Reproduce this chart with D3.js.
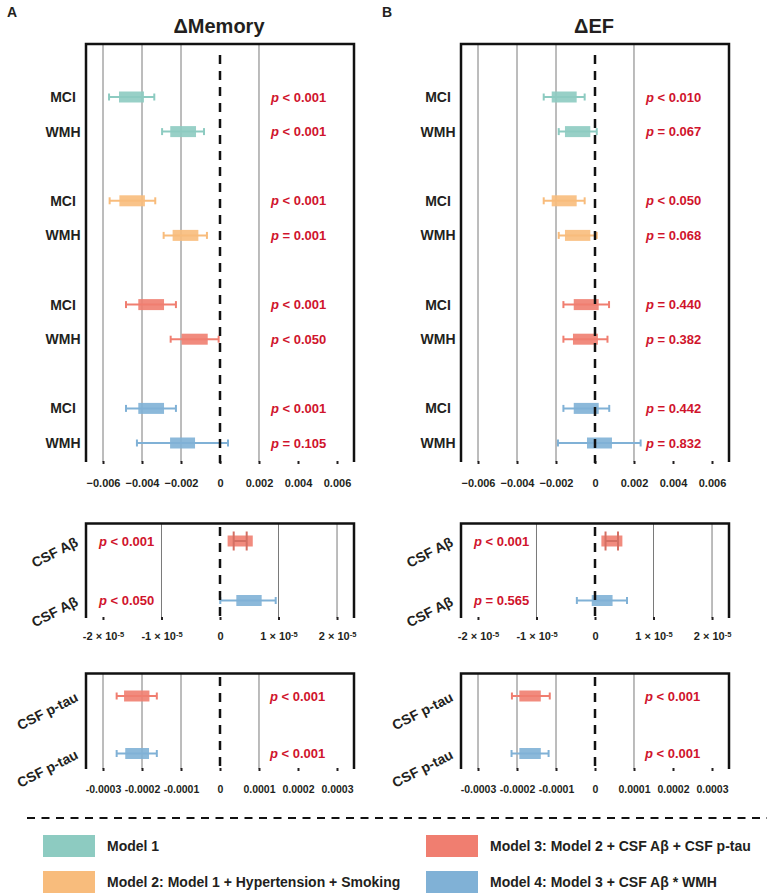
<!DOCTYPE html>
<html><head><meta charset="utf-8">
<script src="https://cdn.jsdelivr.net/npm/d3@7"></script>
<style>
body{margin:0;background:#fff}
svg{display:block;font-family:"Liberation Sans",Arial,Helvetica,sans-serif}
</style>
</head><body>
<svg id="chart" width="767" height="896"></svg>
<script>
// ---------- data ----------
const modelNames = ["Model 1", "Model 2: Model 1 + Hypertension + Smoking", "Model 3: Model 2 + CSF Aβ + CSF p-tau", "Model 4: Model 3 + CSF Aβ * WMH"];
const modelColors = ["#8dcbc1", "#f8bc7c", "#f07e70", "#80b1d6"];

// top panels: 4 models x (MCI, WMH)
const topModels = [0, 0, 1, 1, 2, 2, 3, 3];
const topTerms = ["MCI", "WMH", "MCI", "WMH", "MCI", "WMH", "MCI", "WMH"];
const topRowPos = [0, 1, 3, 4, 6, 7, 9, 10];

const memBoxLo = [-0.00518, -0.00255, -0.00516, -0.00243, -0.00419, -0.00197, -0.00419, -0.00256];
const memBoxHi = [-0.00390, -0.00123, -0.00385, -0.00111, -0.00287, -0.00063, -0.00287, -0.00128];
const memCiLo  = [-0.00569, -0.00297, -0.00566, -0.00289, -0.00482, -0.00253, -0.00482, -0.00426];
const memCiHi  = [-0.00337, -0.00082, -0.00332, -0.00067, -0.00226, -0.00007, -0.00226, 0.00041];
const memP     = ["< 0.001", "< 0.001", "< 0.001", "= 0.001", "< 0.001", "< 0.050", "< 0.001", "= 0.105"];

const efBoxLo = [-0.00222, -0.00154, -0.00222, -0.00154, -0.00109, -0.00113, -0.00109, -0.00041];
const efBoxHi = [-0.00094, -0.00024, -0.00094, -0.00024, 0.00019, 0.00015, 0.00019, 0.00087];
const efCiLo  = [-0.00263, -0.00186, -0.00263, -0.00186, -0.00162, -0.00162, -0.00162, -0.00190];
const efCiHi  = [-0.00053, 0.00009, -0.00053, 0.00009, 0.00072, 0.00064, 0.00073, 0.00234];
const efP     = ["< 0.010", "= 0.067", "< 0.050", "= 0.068", "= 0.440", "= 0.382", "= 0.442", "= 0.832"];

// CSF Aβ panels (Models 3, 4)
const csfModels = [2, 3];
const abTerm = "CSF Aβ";
const memAbBoxLo = [0.130e-5, 0.279e-5];
const memAbBoxHi = [0.560e-5, 0.712e-5];
const memAbCiLo  = [0.234e-5, 0.005e-5];
const memAbCiHi  = [0.456e-5, 0.952e-5];
const memAbP     = ["< 0.001", "< 0.050"];
const efAbBoxLo = [0.109e-5, -0.056e-5];
const efAbBoxHi = [0.468e-5, 0.300e-5];
const efAbCiLo  = [0.180e-5, -0.310e-5];
const efAbCiHi  = [0.393e-5, 0.547e-5];
const efAbP     = ["< 0.001", "= 0.565"];

// CSF p-tau panels (Models 3, 4)
const tauTerm = "CSF p-tau";
const memTauBoxLo = [-0.000246, -0.000243];
const memTauBoxHi = [-0.000181, -0.000182];
const memTauCiLo  = [-0.000265, -0.000265];
const memTauCiHi  = [-0.000162, -0.000162];
const memTauP     = ["< 0.001", "< 0.001"];
const efTauBoxLo = [-0.000194, -0.000194];
const efTauBoxHi = [-0.000139, -0.000139];
const efTauCiLo  = [-0.000213, -0.000214];
const efTauCiHi  = [-0.000116, -0.000119];
const efTauP     = ["< 0.001", "< 0.001"];

// ticks
const topTicks = [-0.006, -0.004, -0.002, 0, 0.002, 0.004, 0.006];
const topTickLabels = ["−0.006", "−0.004", "−0.002", "0", "0.002", "0.004", "0.006"];
const topGrid = [-0.006, -0.004, -0.002, 0.002];
const abTicks = [-2e-5, -1e-5, 0, 1e-5, 2e-5];
const abTickBase = ["-2 × 10", "-1 × 10", "0", "1 × 10", "2 × 10"];
const abTickExp = ["-5", "-5", "", "-5", "-5"];
const abGrid = [-1e-5, 1e-5, 2e-5];
const tauTicks = [-0.0003, -0.0002, -0.0001, 0, 0.0001, 0.0002, 0.0003];
const tauTickLabels = ["-0.0003", "-0.0002", "-0.0001", "0", "0.0001", "0.0002", "0.0003"];
const tauGrid = [-0.0003, -0.0002, -0.0001, 0.0001];

const titles = ["ΔMemory", "ΔEF"];
const panelLetters = ["A", "B"];

// ---------- drawing ----------
const svg = d3.select("#chart");
svg.append("rect").attr("width", 767).attr("height", 896).attr("fill", "#fff");
const INK = "#231f20", PRED = "#d0142c", GRID = "#7a7a7a";
const PW = 268;

function panel(o) {
  const g = svg.append("g");
  const x = d3.scaleLinear().domain([-o.extent, o.extent]).range([o.left, o.left + PW]);
  // gridlines
  g.selectAll("line.grid").data(o.grid).join("line")
    .attr("x1", d => x(d)).attr("x2", d => x(d))
    .attr("y1", o.top).attr("y2", o.bottom)
    .attr("stroke", GRID).attr("stroke-width", 1);
  // axis
  const ax = g.append("g").attr("transform", `translate(0,${o.bottom - 1})`)
    .call(d3.axisBottom(x).tickValues(o.ticks).tickSize(3).tickPadding(o.pad)
      .tickFormat((d, i) => o.tickLabels[i]));
  ax.attr("font-size", o.tickSize).attr("font-family", '"Liberation Sans",Arial,sans-serif');
  ax.select(".domain").remove();
  ax.selectAll(".tick line").attr("stroke", INK).attr("stroke-width", 2);
  ax.selectAll(".tick text").attr("fill", INK).style("font-size", o.tickSize + "px")
    .attr("font-weight", "bold");
  if (o.tickExp) {
    ax.selectAll(".tick text").each(function(d, i) {
      const t = d3.select(this);
      if (!o.tickExp[i]) return;
      t.text(o.tickLabels[i]);
      t.append("tspan").style("font-size", "7.5px").attr("dy", "-0.5em").text(o.tickExp[i]);
    });
  }
  // border
  g.append("path")
    .attr("d", `M${o.left},${o.bottom}V${o.top}H${o.left + PW}V${o.bottom}`)
    .attr("fill", "none").attr("stroke", "#111").attr("stroke-width", 2.5);
  // rows
  const rows = o.models.map((m, i) => ({
    m, term: o.terms[i], y: o.rowY[i], bLo: o.boxLo[i], bHi: o.boxHi[i],
    cLo: o.ciLo[i], cHi: o.ciHi[i], p: o.pvals[i]
  }));
  const r = g.selectAll("g.row").data(rows).join("g");
  r.append("rect")
    .attr("x", d => x(d.bLo)).attr("width", d => x(d.bHi) - x(d.bLo))
    .attr("y", d => d.y - 5.5).attr("height", 11)
    .attr("fill", d => modelColors[d.m]).attr("fill-opacity", 0.9);
  const inside = d => d.cLo > d.bLo && d.cHi < d.bHi;
  const wcol = d => inside(d) ? d3.color(modelColors[d.m]).darker(0.35) : modelColors[d.m];
  r.append("line")
    .attr("x1", d => x(d.cLo)).attr("x2", d => x(d.cHi))
    .attr("y1", d => d.y).attr("y2", d => d.y)
    .attr("stroke", wcol).attr("stroke-width", 2);
  ["cLo", "cHi"].forEach(k => {
    r.append("line")
      .attr("x1", d => x(d[k])).attr("x2", d => x(d[k]))
      .attr("y1", d => d.y - (inside(d) ? 9.5 : 3.5)).attr("y2", d => d.y + (inside(d) ? 9.5 : 3.5))
      .attr("stroke", wcol).attr("stroke-width", 2);
  });
  // zero line
  g.append("line").attr("x1", x(0)).attr("x2", x(0))
    .attr("y1", o.zeroTop).attr("y2", o.bottom + 1)
    .attr("stroke", "#111").attr("stroke-width", 2.5).attr("stroke-dasharray", "9,7");
  // p values
  const pt = r.append("text").attr("x", o.left + o.pX).attr("y", d => d.y).attr("dy", "0.35em")
    .attr("font-size", 13).attr("font-weight", "bold").attr("fill", PRED);
  pt.append("tspan").attr("font-style", "italic").text("p");
  pt.append("tspan").text(d => " " + d.p);
  // term labels
  if (o.rotate) {
    r.append("text")
      .attr("transform", d => `translate(${o.left - 9},${d.y}) rotate(-27)`)
      .attr("text-anchor", "end").attr("dy", "0.35em")
      .attr("font-size", 14).attr("font-weight", "bold").attr("fill", INK)
      .text(d => d.term);
  } else {
    r.append("text").attr("x", o.left - 23).attr("y", d => d.y).attr("dy", "0.35em")
      .attr("text-anchor", "middle")
      .attr("font-size", 14).attr("font-weight", "bold").attr("fill", INK)
      .text(d => d.term);
  }
}

const lefts = [86, 461];
const topY = d3.scaleLinear().domain([0, 10]).range([97, 443]);
const topData = [
  [memBoxLo, memBoxHi, memCiLo, memCiHi, memP],
  [efBoxLo, efBoxHi, efCiLo, efCiHi, efP]
];
const abData = [
  [memAbBoxLo, memAbBoxHi, memAbCiLo, memAbCiHi, memAbP],
  [efAbBoxLo, efAbBoxHi, efAbCiLo, efAbCiHi, efAbP]
];
const tauData = [
  [memTauBoxLo, memTauBoxHi, memTauCiLo, memTauCiHi, memTauP],
  [efTauBoxLo, efTauBoxHi, efTauCiLo, efTauCiHi, efTauP]
];

lefts.forEach((left, k) => {
  // titles
  svg.append("text").attr("x", left + 133).attr("y", 33).attr("text-anchor", "middle")
    .attr("font-size", 20).attr("font-weight", "bold").attr("fill", INK).text(titles[k]);
  svg.append("text").attr("x", left - 79).attr("y", 17)
    .attr("font-size", 14).attr("font-weight", "bold").attr("fill", INK).text(panelLetters[k]);

  const [bl, bh, cl, ch, pv] = topData[k];
  panel({
    left, top: 44, bottom: 462, zeroTop: 55, extent: 0.006872,
    ticks: topTicks, tickLabels: topTickLabels, grid: topGrid, pad: 15.5, tickSize: 11,
    rowY: topRowPos.map(topY), models: topModels, terms: topTerms,
    boxLo: bl, boxHi: bh, ciLo: cl, ciHi: ch, pvals: pv, pX: 185, rotate: false
  });

  const [abl, abh, acl, ach, apv] = abData[k];
  panel({
    left, top: 523.5, bottom: 618, zeroTop: 527, extent: 2.29e-5,
    ticks: abTicks, tickLabels: abTickBase, tickExp: abTickExp, grid: abGrid, pad: 12.5, tickSize: 11,
    rowY: [541, 600.5], models: csfModels, terms: [abTerm, abTerm],
    boxLo: abl, boxHi: abh, ciLo: acl, ciHi: ach, pvals: apv, pX: 13, rotate: true
  });

  const [tbl, tbh, tcl, tch, tpv] = tauData[k];
  panel({
    left, top: 673.5, bottom: 769, zeroTop: 677, extent: 0.0003436,
    ticks: tauTicks, tickLabels: tauTickLabels, grid: tauGrid, pad: 14.5, tickSize: 10.5,
    rowY: [696, 753.5], models: csfModels, terms: [tauTerm, tauTerm],
    boxLo: tbl, boxHi: tbh, ciLo: tcl, ciHi: tch, pvals: tpv, pX: 184, rotate: true
  });
});

// ---------- legend ----------
svg.append("line").attr("x1", 27).attr("x2", 767).attr("y1", 818).attr("y2", 818)
  .attr("stroke", "#111").attr("stroke-width", 2).attr("stroke-dasharray", "8,6.5");
const legX = [43, 43, 426, 426];
const legY = [846, 882, 846, 882];
const lg = svg.selectAll("g.leg").data(modelNames).join("g");
lg.append("rect").attr("x", (d, i) => legX[i]).attr("y", (d, i) => legY[i] - 11)
  .attr("width", 52).attr("height", 22).attr("fill", (d, i) => modelColors[i]);
lg.append("text").attr("x", (d, i) => legX[i] + 64).attr("y", (d, i) => legY[i]).attr("dy", "0.35em")
  .attr("font-size", 14).attr("font-weight", "bold").attr("fill", INK).text(d => d);
</script>
</body></html>
